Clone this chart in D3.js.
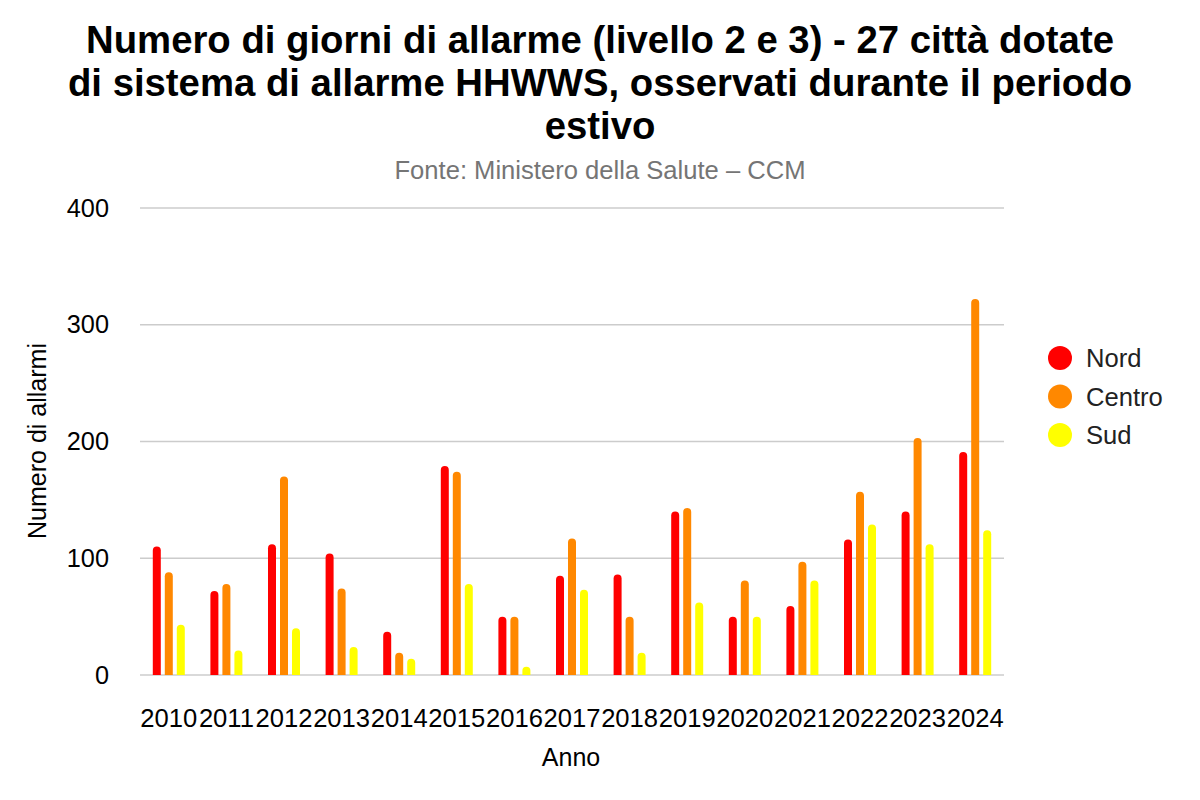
<!DOCTYPE html>
<html>
<head>
<meta charset="utf-8">
<script src="https://cdn.jsdelivr.net/npm/d3@7"></script>
<style>
  body { margin: 0; background: #fff; }
  svg { font-family: "Liberation Sans", Arial, sans-serif; }
</style>
</head>
<body>
<svg width="1200" height="800"></svg>
<script>
var years = ["2010","2011","2012","2013","2014","2015","2016","2017","2018","2019","2020","2021","2022","2023","2024"];
var seriesNames = ["Nord", "Centro", "Sud"];
var nord   = [110, 72, 112, 104, 37, 179, 50, 85, 86, 140, 50, 59, 116, 140, 191];
var centro = [88, 78, 170, 74, 19, 174, 50, 117, 50, 143, 81, 97, 157, 203, 322];
var sud    = [43, 21, 40, 24, 14, 78, 7, 73, 19, 62, 50, 81, 129, 112, 124];
var yTicks = [0, 100, 200, 300, 400];
var colors = ["#ff0000", "#ff8800", "#ffff00"];

var svg = d3.select("svg");

var x = d3.scaleBand().domain(years).range([140, 1004]).padding(0);
var y = d3.scaleLinear().domain([0, 400]).range([675, 208]);
var color = d3.scaleOrdinal().domain(seriesNames).range(colors);

// title
var title = svg.append("text")
  .attr("text-anchor", "middle")
  .attr("font-weight", "bold")
  .attr("font-size", 38.3)
  .attr("fill", "#000");
["Numero di giorni di allarme (livello 2 e 3) - 27 città dotate",
 "di sistema di allarme HHWWS, osservati durante il periodo",
 "estivo"].forEach(function(t, i) {
  title.append("tspan").attr("x", 600).attr("y", 53 + i * 43).text(t);
});

svg.append("text")
  .attr("x", 600).attr("y", 179)
  .attr("text-anchor", "middle")
  .attr("font-size", 25.6)
  .attr("fill", "#757575")
  .text("Fonte: Ministero della Salute – CCM");

// gridlines
svg.append("g")
  .selectAll("line")
  .data(yTicks)
  .enter()
  .append("line")
  .attr("x1", 140).attr("x2", 1004)
  .attr("y1", function(d) { return y(d); })
  .attr("y2", function(d) { return y(d); })
  .attr("stroke", "#cccccc")
  .attr("stroke-width", 1.5);

// y axis labels
var yAxis = svg.append("g")
  .attr("transform", "translate(109,0)")
  .call(d3.axisLeft(y).tickValues(yTicks).tickSize(0).tickPadding(0));
yAxis.select(".domain").remove();
yAxis.selectAll("text")
  .attr("font-size", 25.3)
  .attr("font-family", "Liberation Sans, Arial, sans-serif")
  .attr("fill", "#000");

// x axis labels
var xAxis = svg.append("g")
  .attr("transform", "translate(0,675)")
  .call(d3.axisBottom(x).tickSize(0).tickPadding(34));
xAxis.select(".domain").remove();
xAxis.selectAll("text")
  .attr("font-size", 25.6)
  .attr("font-family", "Liberation Sans, Arial, sans-serif")
  .attr("fill", "#000");

// axis titles
svg.append("text")
  .attr("x", 571).attr("y", 766)
  .attr("text-anchor", "middle")
  .attr("font-size", 25)
  .attr("fill", "#000")
  .text("Anno");

svg.append("text")
  .attr("transform", "translate(46,441) rotate(-90)")
  .attr("text-anchor", "middle")
  .attr("font-size", 25)
  .attr("fill", "#000")
  .text("Numero di allarmi");

// bars
var data = years.map(function(yr, i) {
  return { year: yr, values: [nord[i], centro[i], sud[i]] };
});
var inner = d3.scaleBand().domain(seriesNames).range([-16, 16]).paddingInner(1/3).paddingOuter(0);

function roundTopBar(x0, w, top, bottom) {
  var r = w / 2;
  if (bottom - top < r) r = Math.max(0, bottom - top);
  return "M" + x0 + "," + bottom +
    "V" + (top + r) +
    "A" + r + "," + r + " 0 0 1 " + (x0 + w) + "," + (top + r) +
    "V" + bottom + "Z";
}

var groups = svg.append("g")
  .selectAll("g")
  .data(data)
  .enter()
  .append("g")
  .attr("transform", function(d) { return "translate(" + (x(d.year) + x.bandwidth() / 2) + ",0)"; });

groups.selectAll("path")
  .data(function(d) {
    return d.values.map(function(v, j) { return { key: seriesNames[j], value: v }; });
  })
  .enter()
  .append("path")
  .attr("fill", function(d) { return color(d.key); })
  .attr("d", function(d) {
    return roundTopBar(inner(d.key), inner.bandwidth(), y(d.value), y(0));
  });

// legend
var legend = svg.append("g")
  .selectAll("g")
  .data(seriesNames)
  .enter()
  .append("g")
  .attr("transform", function(d, i) { return "translate(1060," + (358 + i * 38.5) + ")"; });

legend.append("circle")
  .attr("r", 12)
  .attr("fill", function(d) { return color(d); });

legend.append("text")
  .attr("x", 26)
  .attr("y", 9)
  .attr("font-size", 25.6)
  .attr("fill", "#222")
  .text(function(d) { return d; });
</script>
</body>
</html>
